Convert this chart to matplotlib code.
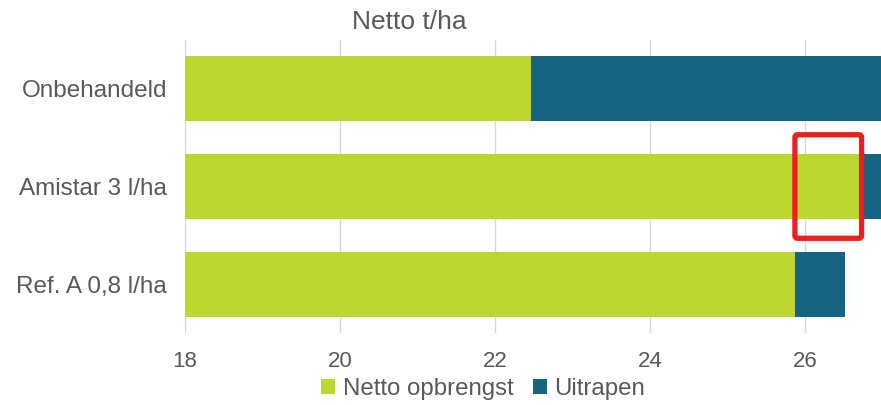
import matplotlib
matplotlib.use("Agg")
import matplotlib.pyplot as plt
from matplotlib.patches import FancyBboxPatch

categories = ["Onbehandeld", "Amistar 3 l/ha", "Ref. A 0,8 l/ha"]
netto = [22.46, 26.70, 25.87]
uitrapen = [5.20, 0.60, 0.65]
xticks = [18, 20, 22, 24, 26]

green = "#BDD630"
blue = "#156582"
txt = "#595959"

plt.rcParams['font.family'] = ['Liberation Sans', 'DejaVu Sans']

fig = plt.figure(figsize=(8.81, 4.05), dpi=100)
ax = fig.add_axes([185/881, 72/405, 775/881, 293/405])

y = list(range(len(categories)))
ax.barh(y, netto, height=0.667, color=green, label="Netto opbrengst", zorder=2)
ax.barh(y, uitrapen, left=netto, height=0.667, color=blue, label="Uitrapen", zorder=2)

ax.set_xlim(18, 28)
ax.set_ylim(2.5, -0.5)
ax.set_xticks([18, 20, 22, 24, 26, 28])
ax.set_xticklabels([str(t) for t in xticks] + [""], fontsize=16, color=txt)
ax.set_yticks(y)
ax.set_yticklabels(categories, fontsize=17.5, color=txt)
ax.tick_params(axis='both', length=0)
ax.tick_params(axis='x', pad=13)
ax.tick_params(axis='y', pad=13)
ax.grid(axis='x', color="#D9D9D9", linewidth=1, zorder=0)
for s in ax.spines.values():
    s.set_visible(False)

# red highlight box
rect = FancyBboxPatch((25.87, 0.47), 0.86, 1.06,
                      boxstyle="round,pad=0,rounding_size=0.03",
                      fill=False, edgecolor="#E8201F", linewidth=3.8,
                      zorder=5, mutation_aspect=1.0)
ax.add_patch(rect)

fig.text(409/881, 1 - 22/405, "Netto t/ha", fontsize=19, color=txt,
         ha='center', va='center')

handles, labels = ax.get_legend_handles_labels()
fig.legend(handles, labels, loc='center', bbox_to_anchor=(483/881, 1 - 389/405),
           ncol=2, frameon=False, fontsize=17.3, labelcolor=txt,
           handlelength=0.6, handleheight=0.6, handletextpad=0.3,
           columnspacing=0.8, borderpad=0)

fig.savefig("out.png", dpi=100)
